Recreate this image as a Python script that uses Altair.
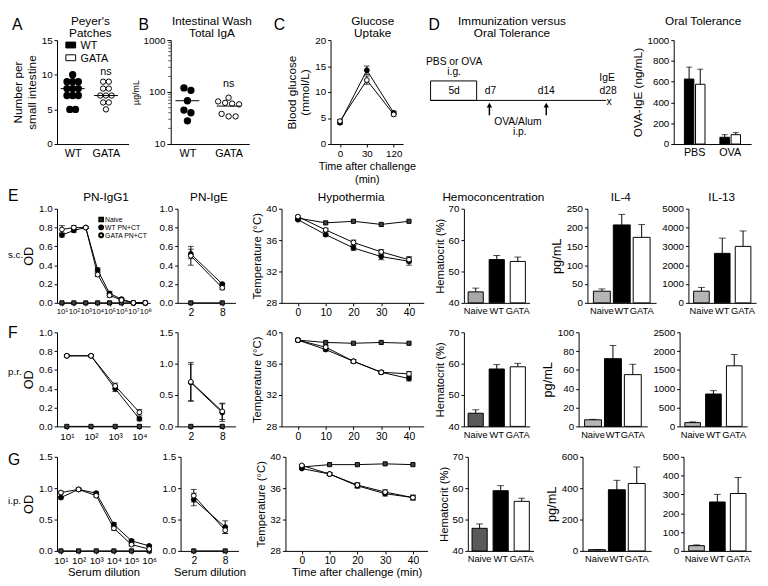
import altair as alt
import pandas as pd
import numpy as np

FONT = "Liberation Sans"

# ======================= DATA =======================
GROUPS2 = ["WT", "GATA"]
GROUPS3 = ["Naive", "WT", "GATA"]

A_WT = [10, 9, 9, 9, 8, 8, 8, 7, 7, 7, 5, 5]
A_GATA = [9, 9, 8, 8, 7, 7, 7, 6, 6, 5]
B_WT = [120, 108, 68, 45, 40, 28]
B_GATA = [78, 66, 62, 60, 58, 38, 34, 34]
B_MAJOR = [10, 100, 1000]
B_MINOR = [20, 30, 40, 50, 60, 70, 80, 90, 200, 300, 400, 500, 600, 700, 800, 900]
C_TIME = ["0", "30", "120"]
C_WT = [4.1, 14.2, 6.0]
C_WT_SEM = [0.3, 0.8, 0.3]
C_GATA = [4.4, 12.3, 5.7]
C_GATA_SEM = [0.3, 0.8, 0.3]
OT_GROUPS = ["PBS", "OVA"]
OT_WT = [625, 65]
OT_WT_SEM = [115, 25]
OT_GATA = [575, 90]
OT_GATA_SEM = [145, 20]

E_DIL = [1, 2, 3, 4, 5, 6, 7, 8]
E_IGG1_NAIVE = [0, 0, 0, 0, 0, 0, 0, 0]
E_IGG1_WT = [0.72, 0.77, 0.80, 0.35, 0.10, 0.04, 0.0, 0.0]
E_IGG1_WT_SEM = [0.02, 0.02, 0.01, 0.02, 0.02, 0.01, 0.0, 0.0]
E_IGG1_GATA = [0.78, 0.80, 0.80, 0.30, 0.08, 0.03, 0.0, 0.0]
E_IGG1_GATA_SEM = [0.04, 0.02, 0.01, 0.02, 0.02, 0.01, 0.0, 0.0]
IGE_DIL = ["2", "8"]
E_IGE_NAIVE = [0, 0]
E_IGE_WT = [0.52, 0.20]
E_IGE_WT_SEM = [0.05, 0.01]
E_IGE_GATA = [0.50, 0.16]
E_IGE_GATA_SEM = [0.10, 0.02]
TIME = [0, 10, 20, 30, 40]
E_T_NAIVE = [38.8, 38.2, 38.4, 38.0, 38.4]
E_T_WT = [38.6, 36.7, 35.0, 33.9, 33.3]
E_T_WT_SEM = [0.1, 0.2, 0.3, 0.4, 0.5]
E_T_GATA = [39.0, 37.3, 35.7, 34.5, 33.5]
E_T_GATA_SEM = [0.1, 0.2, 0.3, 0.3, 0.4]
E_HCT = [43.5, 53.8, 53.2]
E_HCT_SEM = [1.2, 1.3, 1.4]
E_IL4 = [31, 207, 174]
E_IL4_SEM = [6, 28, 34]
E_IL13 = [620, 2630, 3000]
E_IL13_SEM = [200, 810, 820]

F_DIL = [1, 2, 3, 4]
F_IGG1_NAIVE = [0, 0, 0, 0]
F_IGG1_WT = [0.75, 0.75, 0.40, 0.08]
F_IGG1_WT_SEM = [0.01, 0.01, 0.03, 0.02]
F_IGG1_GATA = [0.75, 0.75, 0.43, 0.15]
F_IGG1_GATA_SEM = [0.01, 0.01, 0.03, 0.03]
F_IGE_NAIVE = [0, 0]
F_IGE_WT = [0.70, 0.22]
F_IGE_WT_SEM = [0.29, 0.14]
F_IGE_GATA = [0.71, 0.24]
F_IGE_GATA_SEM = [0.31, 0.13]
F_T_NAIVE = [39.0, 38.7, 38.6, 38.7, 38.6]
F_T_WT = [39.0, 37.8, 36.3, 34.9, 34.1]
F_T_WT_SEM = [0.1, 0.2, 0.2, 0.2, 0.3]
F_T_GATA = [39.0, 38.1, 36.3, 34.9, 34.7]
F_T_GATA_SEM = [0.1, 0.2, 0.2, 0.2, 0.3]
F_HCT = [44.2, 58.3, 59.0]
F_HCT_SEM = [1.1, 1.4, 1.1]
F_IL4 = [7, 72, 55]
F_IL4_SEM = [0.5, 14, 11]
F_IL13 = [100, 860, 1610]
F_IL13_SEM = [20, 90, 300]

G_DIL = [1, 2, 3, 4, 5, 6]
G_IGG1_NAIVE = [0, 0, 0, 0, 0, 0]
G_IGG1_WT = [0.85, 0.98, 0.92, 0.42, 0.16, 0.08]
G_IGG1_WT_SEM = [0.02, 0.02, 0.02, 0.03, 0.02, 0.01]
G_IGG1_GATA = [0.93, 0.98, 0.88, 0.36, 0.10, 0.03]
G_IGG1_GATA_SEM = [0.02, 0.02, 0.02, 0.03, 0.02, 0.01]
G_IGE_NAIVE = [0, 0]
G_IGE_WT = [0.82, 0.38]
G_IGE_WT_SEM = [0.10, 0.10]
G_IGE_GATA = [0.88, 0.33]
G_IGE_GATA_SEM = [0.10, 0.05]
G_T_NAIVE = [38.7, 39.0, 39.0, 39.1, 39.0]
G_T_WT = [38.5, 37.8, 36.3, 35.3, 34.8]
G_T_WT_SEM = [0.1, 0.2, 0.3, 0.3, 0.3]
G_T_GATA = [38.9, 37.8, 36.4, 35.5, 34.8]
G_T_GATA_SEM = [0.1, 0.2, 0.3, 0.3, 0.3]
G_HCT = [47.2, 59.2, 55.8]
G_HCT_SEM = [1.4, 1.6, 1.0]
G_IL4 = [8, 390, 430]
G_IL4_SEM = [1, 60, 105]
G_IL13 = [28, 260, 305]
G_IL13_SEM = [4, 40, 85]

D_TEXT = ["PBS or OVA", "i.g.", "5d", "d7", "d14", "IgE", "d28", "x", "OVA/Alum", "i.p."]
D_TX = [459, 459, 459, 496, 553, 615, 616, 617, 524, 526]
D_TY = [56, 67, 87, 87, 87, 73, 87, 99, 120, 131]

# ======================= helpers =======================
ONE = pd.DataFrame({"z": [0]})
STYLE = {
    "Naive": dict(shape="square", fill="#404040", stroke="black", size=18),
    "WT": dict(shape="circle", fill="black", stroke="black", size=24),
    "GATA": dict(shape="circle", fill="white", stroke="black", size=24),
}
AXSTYLE = dict(grid=False, domainColor="black", tickColor="black", labelColor="black", titleColor="black",
               labelFont=FONT, titleFont=FONT, titleFontWeight="normal", tickSize=3,
               labelPadding=2, titlePadding=3)


def AX(**kw):
    d = dict(AXSTYLE)
    d.setdefault("labelFontSize", 10)
    d.update(kw)
    return alt.Axis(**d)


def label(text, x, y, size=11, align="left"):
    return alt.Chart(ONE).mark_text(text=text, fontSize=size, align=align,
                                    baseline="alphabetic", color="black", font=FONT
                                    ).encode(x=alt.value(x), y=alt.value(y))


def frame(W, H, L, R, T, B):
    return [alt.Chart(ONE).mark_point(filled=True, opacity=0, size=0).encode(x=alt.value(-L), y=alt.value(-T)),
            alt.Chart(ONE).mark_point(filled=True, opacity=0, size=0).encode(x=alt.value(W + R), y=alt.value(H + B))]


def finish(layers, W, H, geo, texts=()):
    L, R, T, B = geo
    return alt.layer(*layers, *texts, *frame(W, H, L, R, T, B)).properties(width=W, height=H)


def yax(values, title=None, fmt=None, tfs=12, **kw):
    d = dict(values=values, title=title, titleFontSize=tfs)
    if fmt is not None:
        d["format"] = fmt
    d.update(kw)
    return AX(**d)


def line_layers(xs, series, xtype, xscale, xaxis, yscale, yaxis):
    rows = []
    for name, vals, sems in series:
        for x, v, e in zip(xs, vals, sems):
            rows.append(dict(x=x, v=v, lo=v - e, hi=v + e, e=e, s=name))
    df = pd.DataFrame(rows)
    if xtype == "O":
        X = alt.X("x:O", scale=xscale, axis=xaxis, sort=list(xs))
    else:
        X = alt.X("x:Q", scale=xscale, axis=xaxis)

    def Y(f):
        return alt.Y(f + ":Q", scale=yscale, axis=yaxis)

    base = alt.Chart(df)
    layers = [base.mark_line(color="black", strokeWidth=1).encode(x=X, y=Y("v"), detail="s:N")]
    eb = base.transform_filter("datum.e > 0")
    layers.append(eb.mark_rule(color="black", strokeWidth=1).encode(x=X, y=Y("lo"), y2="hi:Q"))
    for f in ["lo", "hi"]:
        layers.append(eb.mark_tick(color="black", orient="horizontal", size=6, thickness=1).encode(x=X, y=Y(f)))
    for name, _, _ in series:
        layers.append(base.transform_filter(alt.datum.s == name).mark_point(
            filled=True, opacity=1, strokeWidth=1, **STYLE[name]).encode(x=X, y=Y("v")))
    return layers


def bar_layers(vals, sems, naive_fill, ydomain, yticks, ytitle=None, base=0, pin=0.28, pout=0.2, tfs=12):
    df = pd.DataFrame({"c": GROUPS3, "v": vals, "hi": [v + s for v, s in zip(vals, sems)],
                       "f": [naive_fill, "black", "white"]})
    xs = alt.Scale(paddingInner=pin, paddingOuter=pout)
    X = alt.X("c:N", sort=GROUPS3, scale=xs,
              axis=AX(title=None, labelAngle=0, ticks=False, labelFontSize=9.5, labelPadding=3))
    ys = alt.Scale(domain=ydomain, nice=False, zero=False)
    yaxis = yax(yticks, ytitle, fmt="d", tfs=tfs)
    b = alt.Chart(df)
    bars = b.mark_bar(stroke="black", strokeWidth=1).encode(
        x=X, y=alt.Y("v:Q", scale=ys, axis=yaxis), y2=alt.datum(base),
        fill=alt.Fill("f:N", scale=None))
    err = b.mark_rule(color="black", strokeWidth=1).encode(x=X, y=alt.Y("v:Q", scale=ys, axis=yaxis), y2="hi:Q")
    cap = b.mark_tick(color="black", orient="horizontal", size=7, thickness=1).encode(
        x=X, y=alt.Y("hi:Q", scale=ys, axis=yaxis))
    return [bars, err, cap]


def swarm(vals, center, step, key, thr):
    vs = sorted(vals, reverse=True)
    clusters = []
    for v in vs:
        if clusters and abs(key(clusters[-1][0]) - key(v)) <= thr:
            clusters[-1].append(v)
        else:
            clusters.append([v])
    out = []
    for c in clusters:
        n = len(c)
        for i, v in enumerate(c):
            out.append((center + (i - (n - 1) / 2) * step, v))
    return out


SUP = "['⁰','¹','²','³','⁴','⁵','⁶','⁷','⁸']"

# ======================= ROW 1 =======================
H1 = 106
T1, B1 = 27, 43
TY1, TY2, LY = -15, -3, -10
# ---- A
a_rows = [dict(x=x, v=v, g="WT") for x, v in swarm(A_WT, 1, 0.17, lambda v: v, 1e-9)] + \
         [dict(x=x, v=v, g="GATA") for x, v in swarm(A_GATA, 2, 0.17, lambda v: v, 1e-9)]
a_df = pd.DataFrame(a_rows)
a_med = pd.DataFrame({"c": [1, 2], "m": [float(np.median(A_WT)), float(np.median(A_GATA))]})
a_med["x1"] = a_med["c"] - 0.36
a_med["x2"] = a_med["c"] + 0.36
axs = alt.Scale(domain=[0.53, 2.68], nice=False, zero=False)
ays = alt.Scale(domain=[0, 15], nice=False)
a_xaxis = AX(values=[1, 2], title=None, ticks=False, labelFontSize=11,
             labelExpr="datum.value == 1 ? 'WT' : 'GATA'", labelPadding=4)
a_yaxis = yax([0, 5, 10, 15], ["Number per", "small intestine"], tfs=12)
a_wt = alt.Chart(a_df).transform_filter(alt.datum.g == "WT").mark_point(
    filled=True, fill="black", stroke="black", size=30, opacity=1).encode(
    x=alt.X("x:Q", scale=axs, axis=a_xaxis), y=alt.Y("v:Q", scale=ays, axis=a_yaxis))
a_ga = alt.Chart(a_df).transform_filter(alt.datum.g == "GATA").mark_point(
    filled=True, fill="white", stroke="black", strokeWidth=1, size=30, opacity=1).encode(
    x=alt.X("x:Q", scale=axs, axis=a_xaxis), y=alt.Y("v:Q", scale=ays, axis=a_yaxis))
a_line = alt.Chart(a_med).mark_rule(color="black", strokeWidth=1).encode(
    x=alt.X("x1:Q", scale=axs, axis=a_xaxis), x2="x2:Q", y=alt.Y("m:Q", scale=ays, axis=a_yaxis))
a_ns = alt.Chart(pd.DataFrame({"x": [2], "y": [9.9], "t": ["ns"]})).mark_text(
    fontSize=11, baseline="alphabetic").encode(x=alt.X("x:Q", scale=axs, axis=a_xaxis),
                                               y=alt.Y("y:Q", scale=ays, axis=a_yaxis), text="t:N")
a_txt = [
    alt.Chart(ONE).mark_rect(fill="black", stroke="black").encode(
        x=alt.value(9), x2=alt.value(19), y=alt.value(2), y2=alt.value(8)),
    alt.Chart(ONE).mark_rect(fill="white", stroke="black").encode(
        x=alt.value(9), x2=alt.value(19), y=alt.value(15), y2=alt.value(21)),
    label("WT", 24, 9, 11), label("GATA", 24, 22, 11),
    label("Peyer's", 34, TY1, 12, "center"), label("Patches", 34, TY2, 12, "center"),
    label("A", -46, LY, 16),
]
panelA = finish([a_wt, a_ga, a_line, a_ns], 73, H1, (46, 1, T1, B1), a_txt)

# ---- B
b_rows = [dict(x=x, v=v, g="WT") for x, v in swarm(B_WT, 1, 0.17, np.log10, 0.06)] + \
         [dict(x=x, v=v, g="GATA") for x, v in swarm(B_GATA, 2, 0.17, np.log10, 0.06)]
b_df = pd.DataFrame(b_rows)
b_mean = pd.DataFrame({"c": [1, 2], "m": [float(np.mean(B_WT)), float(np.mean(B_GATA))]})
b_mean["x1"] = b_mean["c"] - 0.29
b_mean["x2"] = b_mean["c"] + 0.29
bxs = alt.Scale(domain=[0.595, 2.5], nice=False, zero=False)
bys = alt.Scale(type="log", domain=[10, 1000], nice=False)
b_xaxis = AX(values=[1, 2], title=None, ticks=False, labelFontSize=11,
             labelExpr="datum.value == 1 ? 'WT' : 'GATA'", labelPadding=4)
b_yaxis = AX(values=B_MAJOR, title="µg/mL", titleFontSize=9, format="d", tickSize=4)
b_wt = alt.Chart(b_df).transform_filter(alt.datum.g == "WT").mark_point(
    filled=True, fill="black", stroke="black", size=30, opacity=1).encode(
    x=alt.X("x:Q", scale=bxs, axis=b_xaxis), y=alt.Y("v:Q", scale=bys, axis=b_yaxis))
b_ga = alt.Chart(b_df).transform_filter(alt.datum.g == "GATA").mark_point(
    filled=True, fill="white", stroke="black", strokeWidth=1, size=30, opacity=1).encode(
    x=alt.X("x:Q", scale=bxs, axis=b_xaxis), y=alt.Y("v:Q", scale=bys, axis=b_yaxis))
b_line = alt.Chart(b_mean).mark_rule(color="black", strokeWidth=1).encode(
    x=alt.X("x1:Q", scale=bxs, axis=b_xaxis), x2="x2:Q", y=alt.Y("m:Q", scale=bys, axis=b_yaxis))
b_minor = alt.Chart(pd.DataFrame({"m": B_MINOR})).mark_tick(
    color="black", orient="horizontal", size=2.5, thickness=1).encode(
    x=alt.value(-1.25), y=alt.Y("m:Q", scale=bys, axis=b_yaxis))
b_ns = alt.Chart(pd.DataFrame({"x": [2], "y": [125], "t": ["ns"]})).mark_text(
    fontSize=11, baseline="alphabetic").encode(x=alt.X("x:Q", scale=bxs, axis=b_xaxis),
                                               y=alt.Y("y:Q", scale=bys, axis=b_yaxis), text="t:N")
b_txt = [label("Intestinal Wash", 42, TY1, 12, "center"), label("Total IgA", 42, TY2, 12, "center"),
         label("B", -33, LY, 16)]
panelB = finish([b_wt, b_ga, b_line, b_minor, b_ns], 80, H1, (42, 12, T1, B1), b_txt)

# ---- C
c_layers = line_layers(
    C_TIME, [("WT", C_WT, C_WT_SEM), ("GATA", C_GATA, C_GATA_SEM)], "O",
    alt.Scale(type="point", padding=0.35),
    AX(title=["Time after challenge", "(min)"], titleFontSize=11, labelAngle=0, titlePadding=2),
    alt.Scale(domain=[0, 20], nice=False), yax([0, 5, 10, 15, 20], ["Blood glucose", "(mmol/L)"], tfs=12))
c_txt = [label("Glucose", 43, TY1, 12, "center"), label("Uptake", 43, TY2, 12, "center"),
         label("C", -58, LY, 16)]
panelC = finish(c_layers, 74, H1, (71, 16, T1, B1), c_txt)

# ---- D schematic
dxs = alt.Scale(domain=[425, 635], nice=False, zero=False)
dys = alt.Scale(domain=[29, 141], nice=False, zero=False, reverse=True)
d_txt = pd.DataFrame({"x": D_TX, "y": D_TY, "t": D_TEXT})
d_box = pd.DataFrame({"x1": [435], "x2": [482], "y1": [73], "y2": [94]})
d_line = pd.DataFrame({"x1": [435], "x2": [614], "y": [94]})
d_arrow = pd.DataFrame({"x": [495, 553], "y1": [110, 110], "y2": [99, 99]})
d_layers = [
    alt.Chart(d_box).mark_rect(fill="white", stroke="black", strokeWidth=1).encode(
        x=alt.X("x1:Q", scale=dxs, axis=None), x2="x2:Q", y=alt.Y("y1:Q", scale=dys, axis=None), y2="y2:Q"),
    alt.Chart(d_line).mark_rule(color="black", strokeWidth=1).encode(
        x=alt.X("x1:Q", scale=dxs, axis=None), x2="x2:Q", y=alt.Y("y:Q", scale=dys, axis=None)),
    alt.Chart(d_arrow).mark_rule(color="black", strokeWidth=1.5).encode(
        x=alt.X("x:Q", scale=dxs, axis=None), y=alt.Y("y1:Q", scale=dys, axis=None), y2="y2:Q"),
    alt.Chart(d_arrow).mark_point(shape="triangle-up", filled=True, color="black", size=30, opacity=1).encode(
        x=alt.X("x:Q", scale=dxs, axis=None), y=alt.Y("y2:Q", scale=dys, axis=None)),
    alt.Chart(d_txt).mark_text(fontSize=10.5, baseline="alphabetic", color="black").encode(
        x=alt.X("x:Q", scale=dxs, axis=None), y=alt.Y("y:Q", scale=dys, axis=None), text="t:N"),
]
dd_txt = [label("Immunization versus", 93, TY1, 12, "center"), label("Oral Tolerance", 93, TY2, 12, "center"),
          label("D", 8, LY, 16)]
panelD = finish(d_layers, 210, H1, (2, 2, T1, B1), dd_txt)

# ---- Oral tolerance bars
ot_df = pd.DataFrame({
    "g": OT_GROUPS * 2, "gen": ["WT"] * 2 + ["GATA"] * 2,
    "v": OT_WT + OT_GATA,
    "hi": [v + s for v, s in zip(OT_WT + OT_GATA, OT_WT_SEM + OT_GATA_SEM)],
    "f": ["black"] * 2 + ["white"] * 2})
otxs = alt.Scale(paddingInner=0.42, paddingOuter=0.3)
otos = alt.Scale(paddingInner=0.15)
otys = alt.Scale(domain=[0, 1000], nice=False)
ot_xaxis = AX(title=None, labelAngle=0, ticks=False, labelFontSize=11, labelPadding=3)
ot_yaxis = yax([0, 200, 400, 600, 800, 1000], "OVA-IgE (ng/mL)", fmt="d", tfs=12)
OT_X = alt.X("g:N", sort=OT_GROUPS, scale=otxs, axis=ot_xaxis)
OT_XO = alt.XOffset("gen:N", sort=GROUPS2, scale=otos)
ot_bars = alt.Chart(ot_df).mark_bar(stroke="black", strokeWidth=1).encode(
    x=OT_X, xOffset=OT_XO, y=alt.Y("v:Q", scale=otys, axis=ot_yaxis), fill=alt.Fill("f:N", scale=None))
ot_err = alt.Chart(ot_df).mark_rule(color="black").encode(
    x=OT_X, xOffset=OT_XO, y=alt.Y("v:Q", scale=otys, axis=ot_yaxis), y2="hi:Q")
ot_cap = alt.Chart(ot_df).mark_tick(color="black", orient="horizontal", size=6, thickness=1).encode(
    x=OT_X, xOffset=OT_XO, y=alt.Y("hi:Q", scale=otys, axis=ot_yaxis))
panelOT = finish([ot_bars, ot_err, ot_cap], 79, H1, (46, 4, T1, B1),
                 [label("Oral Tolerance", 30, TY1, 12, "center")])

row1 = alt.hconcat(panelA, panelB, panelC, panelD, panelOT, spacing=0)

# ======================= ROWS E, F, G =======================
H = 96
W_COLS = [95, 59, 145, 67, 70, 69]
L_COLS = [50, 24, 40, 37, 43, 31]
R_COLS = [4, 7, 4, 7, 2, 4]


def geo(i, T, B):
    return (L_COLS[i], R_COLS[i], T, B)


def igg1(dil, naive, wt, wt_sem, gata, gata_sem, domain, ydomain, yticks, lfs, xtitle=None):
    zeros = [0] * len(dil)
    xa = dict(values=dil, labelFontSize=lfs, title=xtitle, titleFontSize=11.5, labelOverlap=False,
              labelExpr="'10' + " + SUP + "[datum.value]", titlePadding=1)
    return line_layers(
        dil, [("Naive", naive, zeros), ("WT", wt, wt_sem), ("GATA", gata, gata_sem)], "Q",
        alt.Scale(domain=domain, nice=False, zero=False), AX(**xa),
        alt.Scale(domain=ydomain, nice=False), yax(yticks, "OD", fmt=".1f", tfs=13))


def ige(naive, wt, wt_sem, gata, gata_sem, ydomain, yticks, xtitle=None):
    return line_layers(
        IGE_DIL, [("Naive", naive, [0, 0]), ("WT", wt, wt_sem), ("GATA", gata, gata_sem)], "O",
        alt.Scale(type="point", padding=0.42),
        AX(title=xtitle, labelAngle=0, labelFontSize=10.5, titleFontSize=11.5, titlePadding=1),
        alt.Scale(domain=ydomain, nice=False), yax(yticks, None, fmt=".1f"))


def hypo(naive, wt, wt_sem, gata, gata_sem, xtitle=None):
    return line_layers(
        TIME, [("Naive", naive, [0] * 5), ("WT", wt, wt_sem), ("GATA", gata, gata_sem)], "Q",
        alt.Scale(domain=[-5.9, 45.3], nice=False, zero=False),
        AX(values=TIME, title=xtitle, labelFontSize=10.5, titleFontSize=11.5, titlePadding=1),
        alt.Scale(domain=[28, 40], nice=False, zero=False),
        yax([28, 32, 36, 40], "Temperature (°C)", fmt="d", tfs=11.5))


def hct(vals, sems, fill):
    return bar_layers(vals, sems, fill, [40, 70], [40, 50, 60, 70], "Hematocrit  (%)", base=40, tfs=11.5)


def il4(vals, sems, domain, ticks):
    return bar_layers(vals, sems, "#b5b5b5", domain, ticks, "pg/mL", pin=0.15, pout=0.3, tfs=13)


def il13(vals, sems, domain, ticks):
    return bar_layers(vals, sems, "#b5b5b5", domain, ticks, None, pin=0.25, pout=0.25)


def build_row(layers_list, T, B, texts_list):
    panels = []
    for i, (lay, txt) in enumerate(zip(layers_list, texts_list)):
        panels.append(finish(lay, W_COLS[i], H, geo(i, T, B), txt))
    return alt.hconcat(*panels, spacing=0)


leg_E = [
    alt.Chart(ONE).mark_point(shape="square", filled=True, fill="#404040", stroke="black", size=14, opacity=1).encode(
        x=alt.value(45), y=alt.value(11)),
    alt.Chart(ONE).mark_point(shape="circle", filled=True, fill="black", stroke="black", size=16, opacity=1).encode(
        x=alt.value(45), y=alt.value(19)),
    alt.Chart(ONE).mark_point(shape="circle", filled=True, fill="white", stroke="black", size=16, opacity=1).encode(
        x=alt.value(45), y=alt.value(27)),
    label("Naive", 49, 13.5, 7), label("WT PN+CT", 49, 21.5, 7), label("GATA PN+CT", 49, 29.5, 7),
]

rowE = build_row(
    [igg1(E_DIL, E_IGG1_NAIVE, E_IGG1_WT, E_IGG1_WT_SEM, E_IGG1_GATA, E_IGG1_GATA_SEM,
          [0.588, 8.41], [0, 1], [0, 0.2, 0.4, 0.6, 0.8, 1.0], 8),
     ige(E_IGE_NAIVE, E_IGE_WT, E_IGE_WT_SEM, E_IGE_GATA, E_IGE_GATA_SEM, [0, 1], [0, 0.2, 0.4, 0.6, 0.8, 1.0]),
     hypo(E_T_NAIVE, E_T_WT, E_T_WT_SEM, E_T_GATA, E_T_GATA_SEM),
     hct(E_HCT, E_HCT_SEM, "#a8a8a8"),
     il4(E_IL4, E_IL4_SEM, [0, 250], [0, 50, 100, 150, 200, 250]),
     il13(E_IL13, E_IL13_SEM, [0, 5000], [0, 1000, 2000, 3000, 4000, 5000])],
    23, 15,
    [leg_E + [label("PN-IgG1", 50, -8, 12, "center"), label("E", -50, -8, 16), label("s.c.", -50, 50, 10)],
     [label("PN-IgE", 32, -8, 12, "center")],
     [label("Hypothermia", 71, -8, 12, "center")],
     [label("Hemoconcentration", 30, -8, 12, "center")],
     [label("IL-4", 34, -8, 12, "center")],
     [label("IL-13", 34, -8, 12, "center")]])

rowF = build_row(
    [igg1(F_DIL, F_IGG1_NAIVE, F_IGG1_WT, F_IGG1_WT_SEM, F_IGG1_GATA, F_IGG1_GATA_SEM,
          [0.595, 4.445], [0, 1], [0, 0.2, 0.4, 0.6, 0.8, 1.0], 10),
     ige(F_IGE_NAIVE, F_IGE_WT, F_IGE_WT_SEM, F_IGE_GATA, F_IGE_GATA_SEM, [0, 1.5], [0, 0.5, 1.0, 1.5]),
     hypo(F_T_NAIVE, F_T_WT, F_T_WT_SEM, F_T_GATA, F_T_GATA_SEM),
     hct(F_HCT, F_HCT_SEM, "#5a5a5a"),
     il4(F_IL4, F_IL4_SEM, [0, 100], [0, 20, 40, 60, 80, 100]),
     il13(F_IL13, F_IL13_SEM, [0, 2500], [0, 500, 1000, 1500, 2000, 2500])],
    14, 15,
    [[label("F", -50, 6, 16), label("p.r.", -50, 44, 10)], [], [], [], [], []])

rowG = build_row(
    [igg1(G_DIL, G_IGG1_NAIVE, G_IGG1_WT, G_IGG1_WT_SEM, G_IGG1_GATA, G_IGG1_GATA_SEM,
          [0.778, 6.056], [0, 1.5], [0, 0.5, 1.0, 1.5], 10, xtitle="Serum dilution"),
     ige(G_IGE_NAIVE, G_IGE_WT, G_IGE_WT_SEM, G_IGE_GATA, G_IGE_GATA_SEM, [0, 1.5], [0, 0.5, 1.0, 1.5],
         xtitle="Serum dilution"),
     hypo(G_T_NAIVE, G_T_WT, G_T_WT_SEM, G_T_GATA, G_T_GATA_SEM, xtitle="Time after challenge  (min)"),
     hct(G_HCT, G_HCT_SEM, "#5a5a5a"),
     il4(G_IL4, G_IL4_SEM, [0, 600], [0, 200, 400, 600]),
     il13(G_IL13, G_IL13_SEM, [0, 500], [0, 100, 200, 300, 400, 500])],
    15, 26,
    [[label("G", -50, 8, 16), label("i.p.", -50, 48, 10)], [], [], [], [], []])

chart = alt.vconcat(row1, rowE, rowF, rowG, spacing=0).properties(padding=0)
chart = chart.configure_view(stroke=None).configure_axis(grid=False).configure_text(font=FONT, color="black")

chart.save("out.html", embed_options={"renderer": "svg", "actions": False})
